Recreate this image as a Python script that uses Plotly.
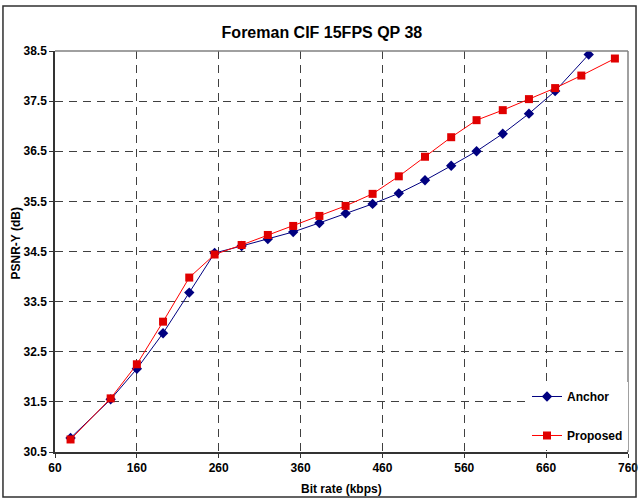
import plotly.graph_objects as go

# Data
anchor_rate = [79, 128, 160, 192, 224, 255, 288, 320, 351, 383, 415, 448, 480, 512, 544, 575, 607, 639, 671, 712]
anchor_psnr = [30.78, 31.55, 32.16, 32.87, 33.68, 34.47, 34.61, 34.75, 34.89, 35.07, 35.26, 35.45, 35.66,
               35.92, 36.21, 36.50, 36.85, 37.25, 37.70, 38.43]
proposed_rate = [79, 128, 160, 192, 224, 255, 288, 320, 351, 383, 415, 448, 480, 512, 544, 575, 607, 639,
                 671, 703, 744]
proposed_psnr = [30.75, 31.57, 32.25, 33.10, 33.98, 34.44, 34.63, 34.83, 35.01, 35.21, 35.41, 35.65, 36.00,
                 36.39, 36.78, 37.12, 37.32, 37.54, 37.76, 38.01, 38.35]

x_ticks = [60, 160, 260, 360, 460, 560, 660, 760]
y_ticks = [30.5, 31.5, 32.5, 33.5, 34.5, 35.5, 36.5, 37.5, 38.5]

FONT = "Liberation Sans, Arial, sans-serif"

fig = go.Figure()
fig.add_trace(go.Scatter(
    x=anchor_rate, y=anchor_psnr, name="Anchor", mode="lines+markers",
    line=dict(color="#000080", width=1),
    marker=dict(symbol="diamond", size=8, color="#000080"),
    legendgroup="a",
))
fig.add_trace(go.Scatter(
    x=proposed_rate, y=proposed_psnr, name="Proposed", mode="lines+markers",
    line=dict(color="#FF0000", width=1),
    marker=dict(symbol="square", size=8, color="#E00000"),
    legendgroup="b",
))

axis_common = dict(
    automargin=False,
    showline=True, linecolor="#333333", linewidth=1.5,
    ticks="outside", ticklen=4, tickcolor="#333333", tickwidth=1,
    showgrid=True, gridcolor="#404040", gridwidth=1, griddash="8px,6px",
    zeroline=False,
    tickfont=dict(family=FONT, size=12, color="black", weight="bold"),
)

fig.update_xaxes(range=[60, 760], tickvals=x_ticks, ticktext=[str(v) for v in x_ticks], **axis_common)
fig.update_yaxes(range=[30.5, 38.5], tickvals=y_ticks, ticktext=[f"{v:.1f}" for v in y_ticks], **axis_common)

fig.update_layout(
    width=640, height=501,
    margin=dict(l=55, r=12, t=51, b=49, autoexpand=False),
    paper_bgcolor="white", plot_bgcolor="white",
    showlegend=True,
    title=dict(text="Foreman CIF 15FPS QP 38", x=0.503, xanchor="center", y=0.936, yanchor="middle",
               yref="container",
               font=dict(family=FONT, size=16, color="black", weight="bold")),
    legend=dict(x=1, y=0.005, xanchor="right", yanchor="bottom", bgcolor="white",
                borderwidth=0, tracegroupgap=20, traceorder="grouped",
                font=dict(family=FONT, size=12, color="black", weight="bold")),
    annotations=[
        dict(text="Bit rate (kbps)", x=0.5, y=-0.092, xref="paper", yref="paper",
             xanchor="center", yanchor="middle", showarrow=False,
             font=dict(family=FONT, size=12, color="black", weight="bold")),
        dict(text="PSNR-Y (dB)", x=-0.068, y=0.52, xref="paper", yref="paper", textangle=-90,
             xanchor="center", yanchor="middle", showarrow=False,
             font=dict(family=FONT, size=12, color="black", weight="bold")),
    ],
    shapes=[
        # top and right plot-area border (gray)
        dict(type="line", xref="paper", yref="paper", x0=0, x1=1, y0=1, y1=1,
             line=dict(color="#808080", width=1.5), layer="above"),
        dict(type="line", xref="paper", yref="paper", x0=1, x1=1, y0=0, y1=1,
             line=dict(color="#808080", width=1.5), layer="above"),
        # outer figure frame
        dict(type="rect", xref="paper", yref="paper", x0=-0.0908, x1=1.014, y0=-0.112, y1=1.112,
             line=dict(color="#303030", width=1.5), layer="above"),
    ],
)

fig.write_html("out.html",
               config={"displayModeBar": False},
               post_script="document.body.style.margin='0';document.body.style.overflow='hidden';")
